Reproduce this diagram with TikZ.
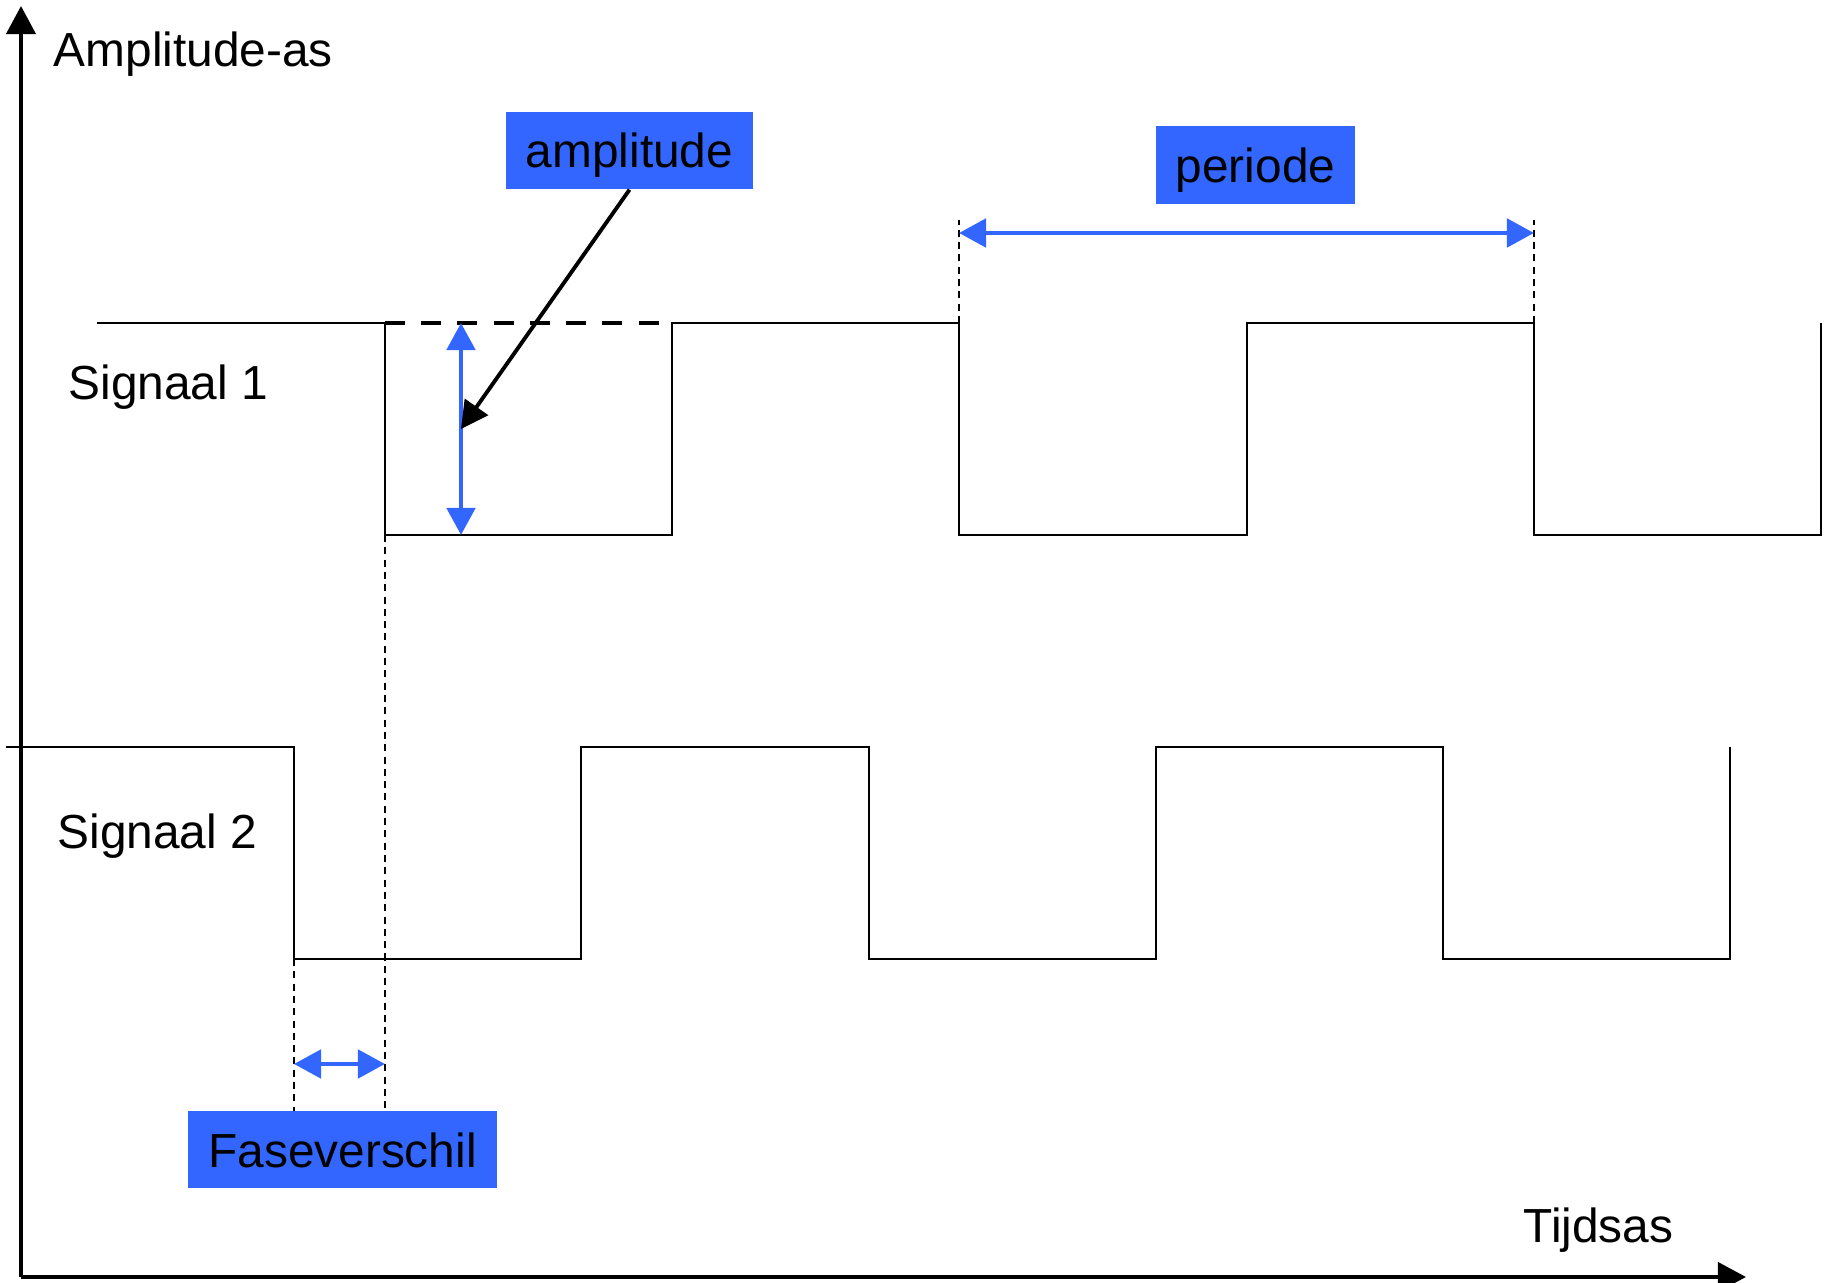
\documentclass[tikz,border=0pt]{standalone}
\usepackage{fontspec}
\setmainfont{Liberation Sans}
\usepackage{tikz}
\usetikzlibrary{arrows.meta}
\definecolor{labelblue}{RGB}{51,102,255}

\begin{document}
\begin{tikzpicture}[x=0.01cm, y=-0.01cm,
        font=\fontsize{13.6}{16}\selectfont,
        signal/.style={line width=0.6pt},
        helpline/.style={line width=0.5pt, dash pattern=on 2pt off 1.5pt},
        measure/.style={signalblue, line width=1.4pt, {Triangle[length=0.27cm,width=0.28cm]}-{Triangle[length=0.27cm,width=0.28cm]}},
        tag/.style={fill=labelblue, minimum height=0.77cm, inner sep=0pt, text height=0.42cm, text depth=0.07cm},
        txt/.style={anchor=base west, inner sep=0pt},
        signalblue/.style={draw=labelblue}]
        \useasboundingbox (0,0) rectangle (1829,1283);

        % assen
        \coordinate (O) at (21,1277);
        \coordinate (ytop) at (21,6);
        \coordinate (xend) at (1746,1277);
        \draw[line width=1.1pt, -{Triangle[length=0.28cm,width=0.29cm]}] (O) to (ytop);
        \draw[line width=1.1pt, -{Triangle[length=0.28cm,width=0.29cm]}] (O) to (xend);
        \node[txt] (yas) at (53,67) {Amplitude-as};
        \node[txt] (xas) at (1523,1243) {Tijdsas};

        % signalen
        \draw[signal] (97,323) -- (385,323) -- (385,535) -- (672,535) -- (672,323) -- (959,323) -- (959,535)
            -- (1247,535) -- (1247,323) -- (1534,323) -- (1534,535) -- (1821,535) -- (1821,323);
        \draw[signal] (6,747) -- (294,747) -- (294,959) -- (581,959) -- (581,747) -- (869,747) -- (869,959)
            -- (1156,959) -- (1156,747) -- (1443,747) -- (1443,959) -- (1730,959) -- (1730,747);
        \draw[line width=1.1pt, dash pattern=on 5.7pt off 4.6pt] (385,323) -- (672,323);
        \node[txt] (s1) at (68,400) {Signaal 1};
        \node[txt] (s2) at (57,849) {Signaal 2};

        % hulplijnen
        \draw[helpline] (385,535) -- (385,1111);
        \draw[helpline] (294,959) -- (294,1111);
        \draw[helpline] (959,323) -- (959,220);
        \draw[helpline] (1534,323) -- (1534,220);

        % amplitude
        \node[tag, minimum width=2.47cm] (amp) at (629.5,150.5) {amplitude};
        \coordinate (amptop) at (461,323);
        \coordinate (ampbot) at (461,535);
        \coordinate (ampmid) at (461,429);
        \draw[measure] (amptop) to (ampbot);
        \draw[line width=1.1pt, -{Triangle[length=0.27cm,width=0.28cm]}] (amp.south) to (ampmid);

        % periode
        \node[tag, minimum width=1.99cm] (per) at (1255.5,165) {periode};
        \coordinate (perl) at (959,233);
        \coordinate (perr) at (1534,233);
        \draw[measure] (perl) to (perr);

        % faseverschil
        \node[tag, minimum width=3.09cm] (fase) at (342.5,1149.5) {Faseverschil};
        \coordinate (fasel) at (294,1064);
        \coordinate (faser) at (385,1064);
        \draw[measure] (fasel) to (faser);
    \end{tikzpicture}
\end{document}
